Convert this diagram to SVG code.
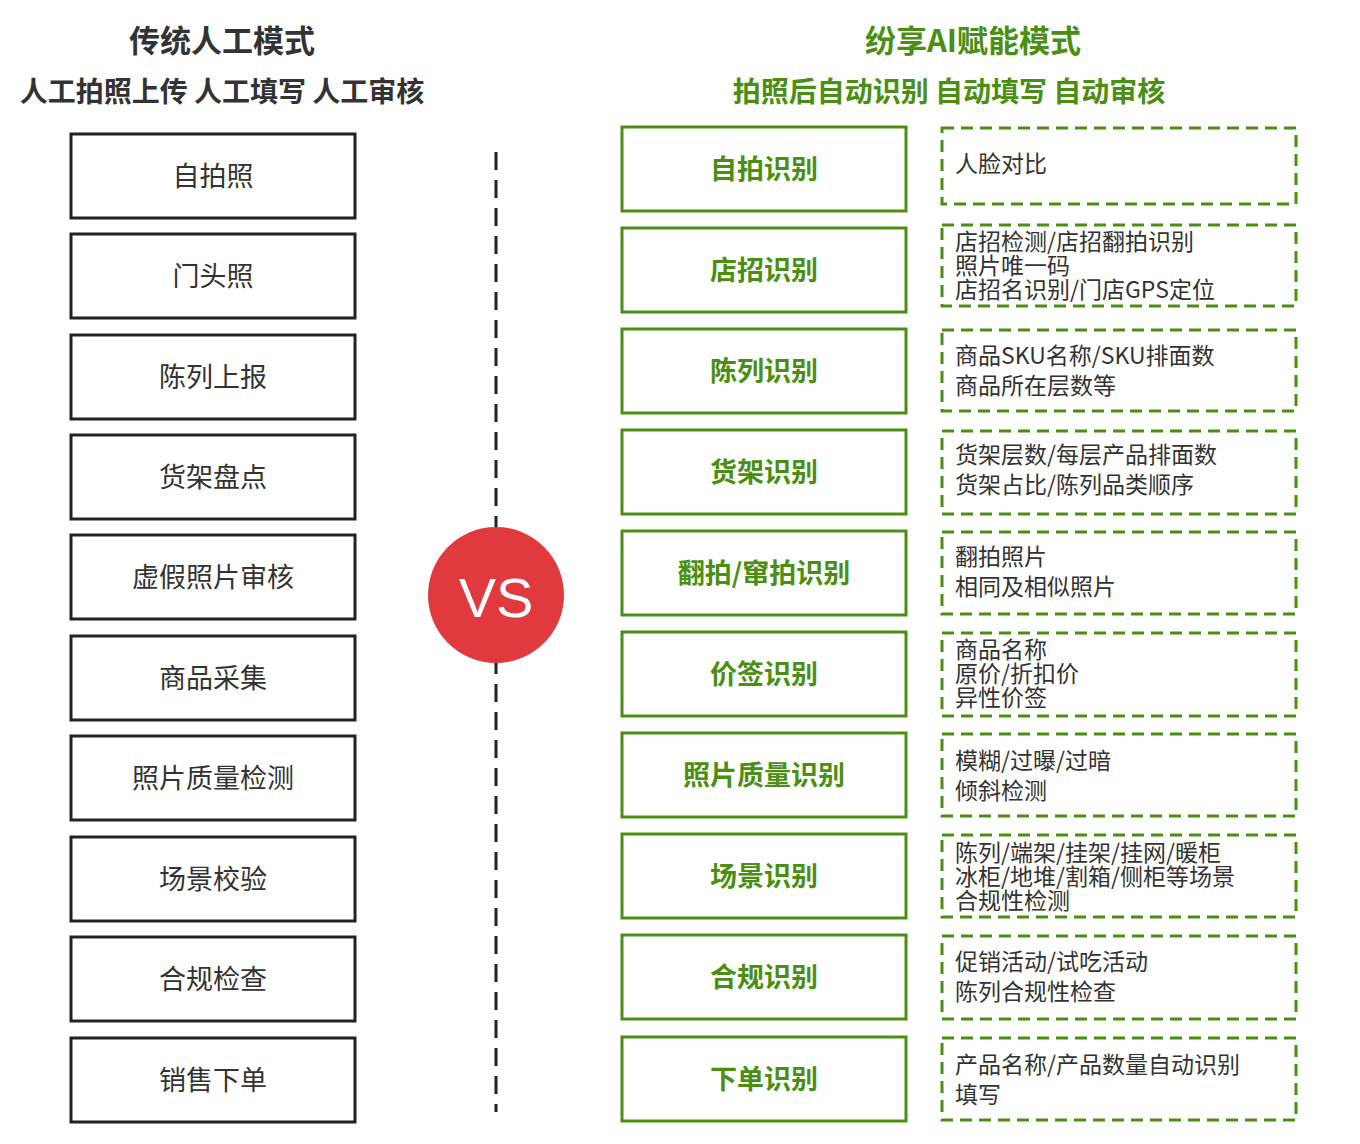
<svg xmlns="http://www.w3.org/2000/svg" width="1360" height="1144" viewBox="0 0 1360 1144">
<style>
text{font-family:"Noto Sans CJK SC","Noto Sans",sans-serif}
.lb{fill:#fff;stroke:#222;stroke-width:3}
.lt{font-size:27px;fill:#333;text-anchor:middle;dominant-baseline:central}
.gb{fill:#fff;stroke:#4a8f12;stroke-width:3}
.gt{font-size:27px;font-weight:bold;fill:#4a8f12;text-anchor:middle;dominant-baseline:central}
.db{fill:none;stroke:#4a8f12;stroke-width:3;stroke-dasharray:12 7}
.dt{font-size:23px;fill:#333}
</style>
<rect width="1360" height="1144" fill="#fff"/>
<text x="222" y="52" font-size="31" font-weight="bold" fill="#333" text-anchor="middle">传统人工模式</text>
<text x="222" y="102" font-size="28" font-weight="bold" fill="#333" text-anchor="middle">人工拍照上传 人工填写 人工审核</text>
<text x="973" y="52" font-size="31" font-weight="bold" fill="#4a8f12" text-anchor="middle">纷享AI赋能模式</text>
<text x="949" y="102" font-size="28" font-weight="bold" fill="#4a8f12" text-anchor="middle">拍照后自动识别 自动填写 自动审核</text>
<g id="connectors"><line x1="496" y1="152" x2="496" y2="1112" stroke="#222" stroke-width="3" stroke-dasharray="18 10"/></g>
<g id="vs"><circle cx="496" cy="595" r="68" fill="#e0393e"/><text x="496" y="597" font-size="56" fill="#fff" text-anchor="middle" dominant-baseline="central" style="font-family:'Liberation Sans',sans-serif">VS</text></g>
<g id="l1"><rect class="lb" x="71" y="134" width="284" height="84"/><text class="lt" x="213" y="174">自拍照</text></g>
<g id="l2"><rect class="lb" x="71" y="234" width="284" height="84"/><text class="lt" x="213" y="274">门头照</text></g>
<g id="l3"><rect class="lb" x="71" y="335" width="284" height="84"/><text class="lt" x="213" y="375">陈列上报</text></g>
<g id="l4"><rect class="lb" x="71" y="435" width="284" height="84"/><text class="lt" x="213" y="475">货架盘点</text></g>
<g id="l5"><rect class="lb" x="71" y="535" width="284" height="84"/><text class="lt" x="213" y="575">虚假照片审核</text></g>
<g id="l6"><rect class="lb" x="71" y="636" width="284" height="84"/><text class="lt" x="213" y="676">商品采集</text></g>
<g id="l7"><rect class="lb" x="71" y="736" width="284" height="84"/><text class="lt" x="213" y="776">照片质量检测</text></g>
<g id="l8"><rect class="lb" x="71" y="837" width="284" height="84"/><text class="lt" x="213" y="877">场景校验</text></g>
<g id="l9"><rect class="lb" x="71" y="937" width="284" height="84"/><text class="lt" x="213" y="977">合规检查</text></g>
<g id="l10"><rect class="lb" x="71" y="1038" width="284" height="84"/><text class="lt" x="213" y="1078">销售下单</text></g>
<g id="r1"><rect class="gb" x="622" y="127" width="284" height="84"/><text class="gt" x="764" y="167">自拍识别</text></g>
<g id="r2"><rect class="gb" x="622" y="228" width="284" height="84"/><text class="gt" x="764" y="268">店招识别</text></g>
<g id="r3"><rect class="gb" x="622" y="329" width="284" height="84"/><text class="gt" x="764" y="369">陈列识别</text></g>
<g id="r4"><rect class="gb" x="622" y="430" width="284" height="84"/><text class="gt" x="764" y="470">货架识别</text></g>
<g id="r5"><rect class="gb" x="622" y="531" width="284" height="84"/><text class="gt" x="764" y="571">翻拍/窜拍识别</text></g>
<g id="r6"><rect class="gb" x="622" y="632" width="284" height="84"/><text class="gt" x="764" y="672">价签识别</text></g>
<g id="r7"><rect class="gb" x="622" y="733" width="284" height="84"/><text class="gt" x="764" y="773">照片质量识别</text></g>
<g id="r8"><rect class="gb" x="622" y="834" width="284" height="84"/><text class="gt" x="764" y="874">场景识别</text></g>
<g id="r9"><rect class="gb" x="622" y="935" width="284" height="84"/><text class="gt" x="764" y="975">合规识别</text></g>
<g id="r10"><rect class="gb" x="622" y="1037" width="284" height="84"/><text class="gt" x="764" y="1077">下单识别</text></g>
<g id="d1"><rect class="db" x="942" y="128" width="354" height="76"/><text class="dt" x="955" y="172">人脸对比</text></g>
<g id="d2"><rect class="db" x="942" y="225" width="354" height="81"/><text class="dt" x="955" y="250">店招检测/店招翻拍识别</text><text class="dt" x="955" y="274">照片唯一码</text><text class="dt" x="955" y="298">店招名识别/门店GPS定位</text></g>
<g id="d3"><rect class="db" x="942" y="330" width="354" height="81"/><text class="dt" x="955" y="364">商品SKU名称/SKU排面数</text><text class="dt" x="955" y="394">商品所在层数等</text></g>
<g id="d4"><rect class="db" x="942" y="431" width="354" height="83"/><text class="dt" x="955" y="463">货架层数/每层产品排面数</text><text class="dt" x="955" y="493">货架占比/陈列品类顺序</text></g>
<g id="d5"><rect class="db" x="942" y="532" width="354" height="82"/><text class="dt" x="955" y="565">翻拍照片</text><text class="dt" x="955" y="595">相同及相似照片</text></g>
<g id="d6"><rect class="db" x="942" y="633" width="354" height="83"/><text class="dt" x="955" y="658">商品名称</text><text class="dt" x="955" y="682">原价/折扣价</text><text class="dt" x="955" y="706">异性价签</text></g>
<g id="d7"><rect class="db" x="942" y="734" width="354" height="82"/><text class="dt" x="955" y="769">模糊/过曝/过暗</text><text class="dt" x="955" y="799">倾斜检测</text></g>
<g id="d8"><rect class="db" x="942" y="835" width="354" height="82"/><text class="dt" x="955" y="861">陈列/端架/挂架/挂网/暖柜</text><text class="dt" x="955" y="885">冰柜/地堆/割箱/侧柜等场景</text><text class="dt" x="955" y="909">合规性检测</text></g>
<g id="d9"><rect class="db" x="942" y="936" width="354" height="83"/><text class="dt" x="955" y="970">促销活动/试吃活动</text><text class="dt" x="955" y="1000">陈列合规性检查</text></g>
<g id="d10"><rect class="db" x="942" y="1038" width="354" height="82"/><text class="dt" x="955" y="1073">产品名称/产品数量自动识别</text><text class="dt" x="955" y="1103">填写</text></g>
</svg>
